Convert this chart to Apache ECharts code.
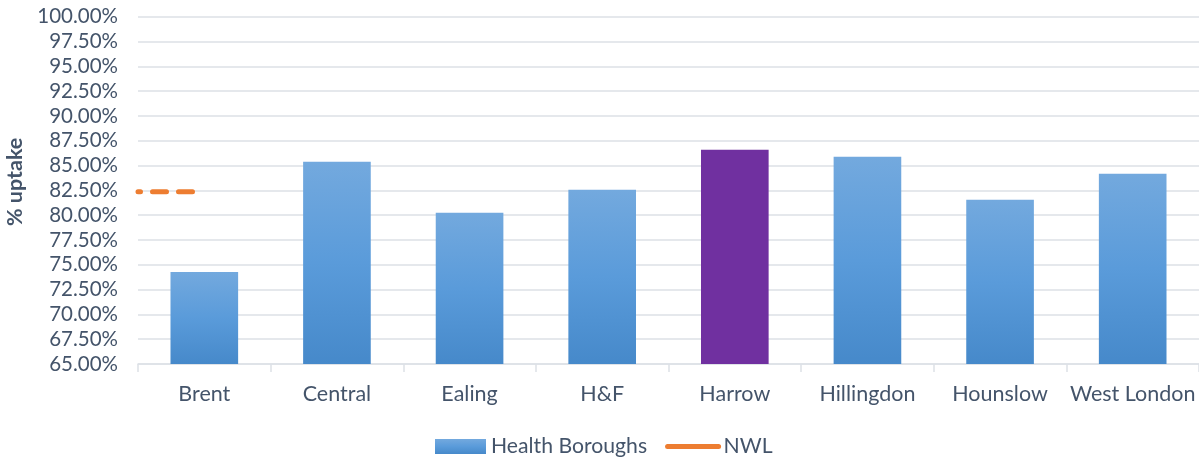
<!DOCTYPE html>
<html>
<head>
<meta charset="utf-8">
<script src="https://cdn.jsdelivr.net/npm/echarts@6/dist/echarts.min.js"></script>
<style>
html,body{margin:0;padding:0;background:#fff;}
#chart{width:1199px;height:458px;}
</style>
</head>
<body>
<div id="chart"></div>
<script>
const categories = ['Brent', 'Central', 'Ealing', 'H&F', 'Harrow', 'Hillingdon', 'Hounslow', 'West London'];
const boroughValues = [74.28, 85.38, 80.25, 82.55, 86.58, 85.88, 81.55, 84.18];
const highlightCategory = 'Harrow';
const nwlValue = 82.35;
const nwlSpan = [0, 0.5]; // in category units from the left edge of the plot
const yMin = 65, yMax = 100, yStep = 2.5;

const labelColor = '#44546A';
const gridColor = '#DDE1E6';
const font = 'Lato, "Open Sans", sans-serif';

const barGradient = new echarts.graphic.LinearGradient(0, 0, 0, 1, [
  { offset: 0, color: '#73A9DE' },
  { offset: 0.5, color: '#5A9BDA' },
  { offset: 1, color: '#4689CA' }
]);

const barData = boroughValues.map((v, i) => categories[i] === highlightCategory
  ? { value: v, itemStyle: { color: '#7030A0' } }
  : v);

const chart = echarts.init(document.getElementById('chart'), null, { renderer: 'canvas' });
chart.setOption({
  animation: false,
  backgroundColor: '#fff',
  grid: { left: 138, right: 0, top: 16.7, bottom: 94, containLabel: false, outerBoundsMode: 'none' },
  legend: {
    left: 430, top: 431,
    itemWidth: 51, itemHeight: 15, itemGap: 18,
    textStyle: { color: labelColor, fontSize: 21.2, fontFamily: font },
    lineStyle: { type: 'solid', width: 5, cap: 'round' },
    data: [
      { name: 'Health Boroughs', icon: 'rect' },
      { name: 'NWL', itemStyle: { color: 'rgba(0,0,0,0)', borderWidth: 0, opacity: 0 } }
    ]
  },
  xAxis: [
    {
      type: 'category',
      data: categories,
      boundaryGap: true,
      axisLine: { show: true, lineStyle: { color: gridColor, width: 1.5 } },
      axisTick: { show: true, interval: 0, length: 8, lineStyle: { color: gridColor, width: 1.5 } },
      axisLabel: { interval: 0, color: labelColor, fontSize: 21.5, fontFamily: font, margin: 19 },
      splitLine: { show: false }
    },
    {
      type: 'value',
      min: 0, max: categories.length,
      show: false
    }
  ],
  yAxis: {
    type: 'value',
    min: yMin, max: yMax, interval: yStep,
    name: '% uptake',
    nameLocation: 'middle',
    nameRotate: 90,
    nameGap: 101,
    nameTextStyle: { color: labelColor, fontSize: 21.5, fontWeight: 'bold', fontFamily: font, padding: [0, 0, 0, 17] },
    axisLine: { show: false },
    axisTick: { show: false },
    axisLabel: {
      color: labelColor, fontSize: 20.5, fontFamily: font, margin: 20,
      formatter: v => v.toFixed(2) + '%'
    },
    splitLine: { lineStyle: { color: gridColor, width: 1.5 } }
  },
  series: [
    {
      name: 'Health Boroughs',
      type: 'bar',
      xAxisIndex: 0,
      data: barData,
      barWidth: '51%',
      itemStyle: { color: barGradient }
    },
    {
      name: 'NWL',
      type: 'line',
      xAxisIndex: 1,
      data: nwlSpan.map(x => [x, nwlValue]),
      showSymbol: false,
      symbol: 'none',
      itemStyle: { color: '#ED7D31' },
      lineStyle: { color: '#ED7D31', width: 5, type: [14, 12], dashOffset: 11.5, cap: 'round' }
    }
  ]
});
</script>
</body>
</html>
